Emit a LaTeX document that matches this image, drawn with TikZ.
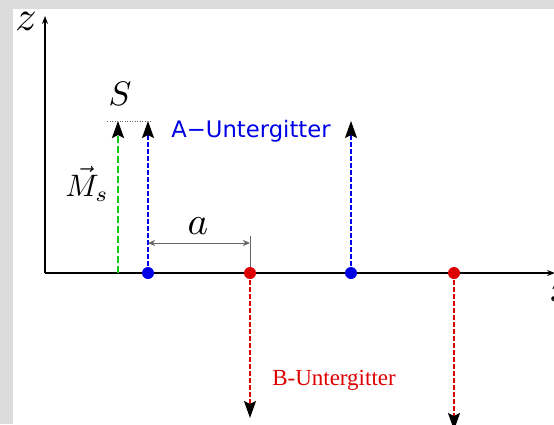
\documentclass[tikz,border=0pt]{standalone}
\usepackage{graphicx}
\usepackage{fontspec}
\newfontfamily\dejavu{DejaVu Sans}
\newfontfamily\libserif{Liberation Serif}
\usetikzlibrary{arrows.meta}
\definecolor{bandgray}{HTML}{DCDCDC}
\definecolor{dotblue}{HTML}{0000E6}
\definecolor{dotred}{HTML}{DD0000}
\definecolor{spingreen}{HTML}{11CC11}
\definecolor{dimgray}{HTML}{666666}
\tikzset{
  axisline/.style={line width=1.3pt, -{Stealth[length=8pt,width=6pt]}},
  spin/.style={line width=1.4pt, dash pattern=on 5pt off 2pt,
    -{Stealth[length=17pt,width=12pt,inset=3pt,color=black]}},
  greenspin/.style={spin, line width=2.4pt, dash pattern=on 7pt off 3pt, draw=spingreen},
  dotA/.style={circle, fill=dotblue, inner sep=0pt, minimum size=12pt},
  dotB/.style={circle, fill=dotred, inner sep=0pt, minimum size=12pt},
  dimline/.style={draw=dimgray, line width=1pt},
  lbl/.style={inner sep=0pt}
}
\begin{document}
\begin{tikzpicture}[x=1pt,y=-1pt]
\useasboundingbox (0,0) rectangle (554,424);
\fill[bandgray] (0,0) rectangle (554,424);
\fill[white] (13,9) rectangle (554,424);

% positions
\coordinate (O) at (45,273);
\coordinate (ztip) at (45,16);
\coordinate (xtip) at (555,273);
\coordinate (G) at (118,273);
\coordinate (Gt) at (118,121);
\coordinate (A1) at (148,273);
\coordinate (A1t) at (148,121);
\coordinate (A2) at (351,273);
\coordinate (A2t) at (351,121);
\coordinate (B1) at (250,273);
\coordinate (B1t) at (250,418);
\coordinate (B2) at (454,273);
\coordinate (B2t) at (454,430);
\coordinate (dotL) at (107,121);
\coordinate (dotR) at (151,121);
\coordinate (dimL) at (148,243);
\coordinate (dimR) at (250,243);
\coordinate (dimTop) at (250,236);

% axes
\draw[axisline] (O) -- (ztip);
\draw[axisline] (O) -- (xtip);

% moments
\draw[greenspin] (G) -- (Gt);
\draw[spin, draw=dotblue] (A1) -- (A1t);
\draw[spin, draw=dotblue] (A2) -- (A2t);
\draw[spin, draw=dotred] (B1) -- (B1t);
\draw[spin, draw=dotred] (B2) -- (B2t);

% dotted top line
\draw[dimgray, line width=0.6pt, dash pattern=on 1pt off 1.5pt] (dotL) -- (dotR);

% dimension a
\draw[dimline] (dimTop) -- (B1);
\draw[dimline, {Stealth[length=7pt,width=6pt,inset=2pt]}-{Stealth[length=7pt,width=6pt,inset=2pt]}] (dimL) -- (dimR);

% lattice sites
\node[dotA] (a1) at (A1) {};
\node[dotA] (a2) at (A2) {};
\node[dotB] (b1) at (B1) {};
\node[dotB] (b2) at (B2) {};

% labels
\node[lbl] (zl) at (26,21) {\scalebox{4.2}{$z$}};
\node[lbl] (xl) at (562,292) {\scalebox{4.2}{$x$}};
\node[lbl] (Sl) at (120,94) {\scalebox{3.4}{$S$}};
\node[lbl] (al) at (198,226) {\scalebox{3.9}{$a$}};
\node[lbl] (Ml) at (87,184) {\scalebox{3.1}{$\vec{M}_s$}};
\node[lbl, text=dotblue] (Al) at (251,131) {\fontsize{22.7}{23}\selectfont\dejavu A−Untergitter};
\node[lbl, text=dotred] (Bl) at (334,380) {\fontsize{23}{23}\selectfont\libserif B-Untergitter};
\end{tikzpicture}
\end{document}
